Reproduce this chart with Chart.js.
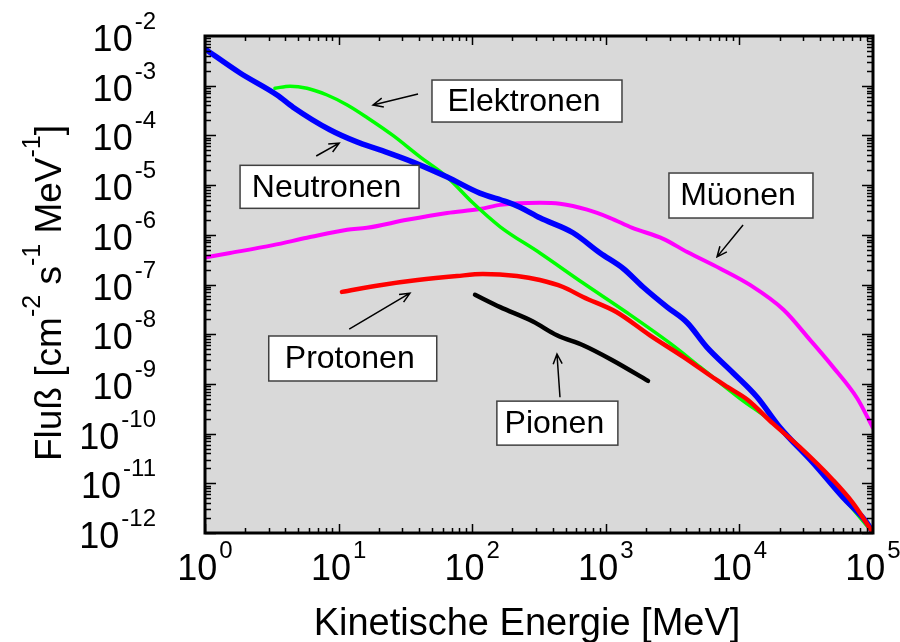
<!DOCTYPE html>
<html>
<head>
<meta charset="utf-8">
<script src="https://cdn.jsdelivr.net/npm/chart.js@4"></script>
<style>
  html, body { margin: 0; padding: 0; background: #fff; }
  #wrap { width: 900px; height: 642px; }
</style>
</head>
<body>
<div id="wrap"><canvas id="fluss" width="900" height="642"></canvas></div>
<script>
// Energie in MeV, Fluß in cm^-2 s^-1 MeV^-1
const protonEnergy = [10.6, 21, 39, 77, 120, 216, 321, 479, 676, 1200, 2140, 3800, 6760, 8130, 11500, 17800, 28200, 50100, 70800, 100000];
const protonFlux = [7.1e-8, 9.8e-8, 1.23e-7, 1.48e-7, 1.62e-7, 1.48e-7, 1.23e-7, 8.9e-8, 5.6e-8, 2.8e-8, 9.5e-9, 3.5e-9, 1.2e-9, 8.7e-10, 4.8e-10, 1.6e-10, 5.4e-11, 1.17e-11, 4.0e-12, 1.0e-12];

const neutronEnergy = [1, 1.83, 3.46, 4.56, 8.6, 13.7, 20.4, 36, 65, 114, 182, 228, 321, 568, 906, 1350, 1900, 2880, 4070, 5700, 8900, 13500, 20000, 35500, 59600, 90200, 100000];
const neutronFlux = [5.5e-3, 1.8e-3, 6.5e-4, 3.7e-4, 1.3e-4, 7.4e-5, 5.1e-5, 2.9e-5, 1.45e-5, 6.9e-6, 4.6e-6, 3.6e-6, 2.2e-6, 1.1e-6, 4.3e-7, 2.1e-7, 8.9e-8, 3.5e-8, 1.7e-8, 5.5e-9, 1.7e-9, 5.5e-10, 1.35e-10, 2.6e-11, 5.2e-12, 1.6e-12, 1.0e-12];

const electronEnergy = [3.34, 4.33, 5.8, 8.2, 11.6, 16.3, 25.5, 40.7, 65, 101, 162, 321, 676, 1445, 3020, 5070, 10000, 20000, 35500, 59600, 100000];
const electronFlux = [8.9e-4, 9.8e-4, 8.9e-4, 6.5e-4, 4.1e-4, 2.3e-4, 1.0e-4, 3.7e-5, 1.45e-5, 4.4e-6, 1.45e-6, 4.3e-7, 1.07e-7, 2.7e-8, 6.6e-9, 2.2e-9, 5.2e-10, 1.3e-10, 2.6e-11, 5.2e-12, 1.0e-12];

const muonEnergy = [1, 1.54, 3.23, 5.8, 11.6, 16.3, 32.5, 65, 114, 162, 321, 454, 724, 1070, 1580, 2690, 4070, 7160, 12000, 21400, 33900, 50100, 75900, 100000];
const muonFlux = [3.5e-7, 4.3e-7, 6.2e-7, 8.7e-7, 1.26e-6, 1.38e-6, 2.0e-6, 2.75e-6, 3.3e-6, 4.0e-6, 4.4e-6, 4.2e-6, 3.2e-6, 2.2e-6, 1.38e-6, 8.3e-7, 4.5e-7, 2.1e-7, 9.8e-8, 3.1e-8, 7.6e-9, 2.2e-9, 5.2e-10, 1.3e-10];

const pionEnergy = [105, 162, 285, 431, 676, 1120, 2070];
const pionFlux = [6.2e-8, 3.5e-8, 1.8e-8, 9.5e-9, 6.0e-9, 3.0e-9, 1.15e-9];

const xTicks = [1, 10, 100, 1000, 10000, 100000];
const yTicks = [1e-2, 1e-3, 1e-4, 1e-5, 1e-6, 1e-7, 1e-8, 1e-9, 1e-10, 1e-11, 1e-12];

// Beschriftungen: Kasten links oben (Energie, Fluß), Pfeil von -> nach
const labels = [
  { text: 'Elektronen', box: [50, 1.3e-3], w: 190, h: 42, from: [39.3, 6.8e-4], to: [18.1, 4.1e-4] },
  { text: 'Neutronen', box: [1.83, 2.5e-5], w: 179, h: 43, from: [6.8, 3.85e-5], to: [10.1, 7.0e-5] },
  { text: 'Müonen', box: [2970, 1.75e-5], w: 144, h: 45, from: [10650, 1.57e-6], to: [6800, 3.6e-7] },
  { text: 'Protonen', box: [3.0, 9.2e-9], w: 168, h: 45, from: [12.0, 1.27e-8], to: [34.2, 6.7e-8] },
  { text: 'Pionen', box: [153, 4.5e-10], w: 121, h: 44, from: [454, 5.4e-10], to: [431, 4.0e-9] }
];

const FONT = '"Liberation Sans", Arial, sans-serif';

function zip(xs, ys) {
  return xs.map((x, i) => ({ x: x, y: ys[i] }));
}

function drawPower(ctx, exp, x, y, align) {
  // "10" mit Hochzahl, y = Grundlinie
  ctx.font = '36px ' + FONT;
  const wBase = ctx.measureText('10').width;
  ctx.font = '24px ' + FONT;
  const wExp = ctx.measureText(String(exp)).width;
  const total = wBase + 2 + wExp;
  let left = x;
  if (align === 'center') left = x - total / 2;
  if (align === 'right') left = x - total;
  ctx.textAlign = 'left';
  ctx.textBaseline = 'alphabetic';
  ctx.font = '36px ' + FONT;
  ctx.fillText('10', left, y);
  ctx.font = '24px ' + FONT;
  ctx.fillText(String(exp), left + wBase + 2, y - 22);
}

function drawArrow(ctx, x1, y1, x2, y2) {
  const a = Math.atan2(y2 - y1, x2 - x1);
  const len = 11, spread = 0.42;
  ctx.beginPath();
  ctx.moveTo(x1, y1);
  ctx.lineTo(x2, y2);
  ctx.moveTo(x2 - len * Math.cos(a - spread), y2 - len * Math.sin(a - spread));
  ctx.lineTo(x2, y2);
  ctx.lineTo(x2 - len * Math.cos(a + spread), y2 - len * Math.sin(a + spread));
  ctx.stroke();
}

const framePlugin = {
  id: 'frame',
  beforeDatasetsDraw(chart) {
    const { ctx, chartArea: a } = chart;
    ctx.save();
    ctx.fillStyle = '#d9d9d9';
    ctx.fillRect(a.left, a.top, a.right - a.left, a.bottom - a.top);
    ctx.restore();
  },
  afterDatasetsDraw(chart) {
    const { ctx, chartArea: a } = chart;
    const xs = chart.scales.x, ys = chart.scales.y;
    ctx.save();

    // Ticks (nach innen)
    ctx.strokeStyle = '#000';
    ctx.lineWidth = 1.5;
    ctx.beginPath();
    for (let d = 0; d < 5; d++) {
      for (let m = 1; m <= 9; m++) {
        const px = Math.round(xs.getPixelForValue(m * Math.pow(10, d))) + 0.5;
        const l = m === 1 ? 9 : 5;
        ctx.moveTo(px, a.bottom); ctx.lineTo(px, a.bottom - l);
        ctx.moveTo(px, a.top); ctx.lineTo(px, a.top + l);
      }
    }
    for (let d = -12; d < -2; d++) {
      for (let m = 1; m <= 9; m++) {
        const py = Math.round(ys.getPixelForValue(m * Math.pow(10, d))) + 0.5;
        const l = m === 1 ? 11 : 6;
        ctx.moveTo(a.left, py); ctx.lineTo(a.left + l, py);
        ctx.moveTo(a.right, py); ctx.lineTo(a.right - l, py);
      }
    }
    ctx.stroke();

    // Rahmen
    ctx.lineWidth = 3;
    ctx.strokeRect(a.left, a.top, a.right - a.left, a.bottom - a.top);

    // Tick-Beschriftung
    ctx.fillStyle = '#000';
    xTicks.forEach(v => {
      drawPower(ctx, Math.round(Math.log10(v)), xs.getPixelForValue(v), a.bottom + 47, 'center');
    });
    yTicks.forEach(v => {
      drawPower(ctx, Math.round(Math.log10(v)), 156, ys.getPixelForValue(v) + 15, 'right');
    });

    // Achsentitel
    ctx.font = '38px ' + FONT;
    ctx.textAlign = 'center';
    ctx.fillText('Kinetische Energie [MeV]', 527, 635);

    const parts = [['Fluß [cm', 0], ['-2', 1], [' s', 0], ['-1', 1], [' MeV', 0], ['-1', 1], [']', 0]];
    ctx.translate(61, 293);
    ctx.rotate(-Math.PI / 2);
    ctx.textAlign = 'left';
    let total = 0;
    parts.forEach(p => {
      ctx.font = (p[1] ? '25px ' : '37px ') + FONT;
      total += ctx.measureText(p[0]).width;
    });
    let cx = -total / 2;
    parts.forEach(p => {
      ctx.font = (p[1] ? '25px ' : '37px ') + FONT;
      ctx.fillText(p[0], cx, p[1] ? -21 : 0);
      cx += ctx.measureText(p[0]).width;
    });
    ctx.setTransform(1, 0, 0, 1, 0, 0);

    // Kästen und Pfeile
    labels.forEach(lb => {
      const bx = xs.getPixelForValue(lb.box[0]);
      const by = ys.getPixelForValue(lb.box[1]);
      ctx.fillStyle = '#fff';
      ctx.fillRect(bx, by, lb.w, lb.h);
      ctx.strokeStyle = '#404040';
      ctx.lineWidth = 1.5;
      ctx.strokeRect(bx, by, lb.w, lb.h);
      ctx.fillStyle = '#000';
      ctx.font = '32px ' + FONT;
      ctx.textAlign = 'center';
      ctx.textBaseline = 'middle';
      ctx.fillText(lb.text, bx + lb.w / 2 - 3, by + lb.h / 2 + 1);
      ctx.strokeStyle = '#000';
      ctx.lineWidth = 1.5;
      drawArrow(ctx,
        xs.getPixelForValue(lb.from[0]), ys.getPixelForValue(lb.from[1]),
        xs.getPixelForValue(lb.to[0]), ys.getPixelForValue(lb.to[1]));
    });

    ctx.restore();
  }
};

const lineStyle = { pointRadius: 0, fill: false, cubicInterpolationMode: 'monotone', borderJoinStyle: 'round', borderCapStyle: 'round' };

new Chart(document.getElementById('fluss'), {
  type: 'line',
  data: {
    datasets: [
      Object.assign({ label: 'Protonen', data: zip(protonEnergy, protonFlux), borderColor: '#ff0000', borderWidth: 4.5 }, lineStyle),
      Object.assign({ label: 'Neutronen', data: zip(neutronEnergy, neutronFlux), borderColor: '#0000ff', borderWidth: 5.5 }, lineStyle),
      Object.assign({ label: 'Elektronen', data: zip(electronEnergy, electronFlux), borderColor: '#00ff00', borderWidth: 3.5 }, lineStyle),
      Object.assign({ label: 'Müonen', data: zip(muonEnergy, muonFlux), borderColor: '#ff00ff', borderWidth: 4 }, lineStyle),
      Object.assign({ label: 'Pionen', data: zip(pionEnergy, pionFlux), borderColor: '#000000', borderWidth: 4.5 }, lineStyle)
    ]
  },
  options: {
    responsive: false,
    animation: false,
    layout: { padding: { left: 205, top: 36, right: 27, bottom: 109 } },
    scales: {
      x: { type: 'logarithmic', min: 1, max: 100000, display: false },
      y: { type: 'logarithmic', min: 1e-12, max: 1e-2, display: false }
    },
    plugins: { legend: { display: false }, tooltip: { enabled: false } }
  },
  plugins: [framePlugin]
});
</script>
</body>
</html>
